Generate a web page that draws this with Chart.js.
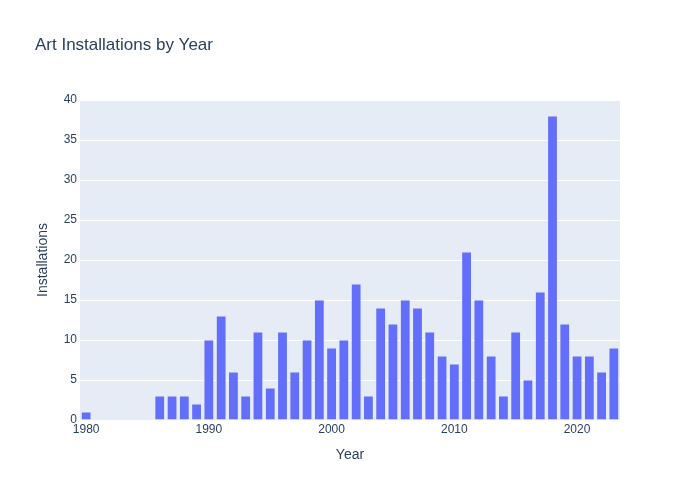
<!DOCTYPE html>
<html lang="en">
<head>
  <meta charset="UTF-8">
  <title>Art Installations by Year</title>
  <script src="https://cdn.jsdelivr.net/npm/chart.js@4.4.1/dist/chart.umd.min.js"></script>
  <style>
  html, body { margin: 0; padding: 0; background: #fff; }
  #wrap { width: 700px; height: 500px; }
  </style>
</head>
<body>
<div id="wrap"><canvas id="myChart" width="700" height="500"></canvas></div>
<script>
    const years = [1980, 1981, 1982, 1983, 1984, 1985, 1986, 1987, 1988, 1989,
      1990, 1991, 1992, 1993, 1994, 1995, 1996, 1997, 1998, 1999,
      2000, 2001, 2002, 2003, 2004, 2005, 2006, 2007, 2008, 2009,
      2010, 2011, 2012, 2013, 2014, 2015, 2016, 2017, 2018, 2019,
      2020, 2021, 2022, 2023];
    const installations = [1, 0, 0, 0, 0, 0, 3, 3, 3, 2,
      10, 13, 6, 3, 11, 4, 11, 6, 10, 15,
      9, 10, 17, 3, 14, 12, 15, 14, 11, 8,
      7, 21, 15, 8, 3, 11, 5, 16, 38, 12,
      8, 8, 6, 9];
    const yTicks = [0, 5, 10, 15, 20, 25, 30, 35, 40];
    const xTickYears = [1980, 1990, 2000, 2010, 2020];

    // plot background like plotly
    const plotBg = {
        id: 'plotBg',
        beforeDraw: (chart) => {
            const a = chart.chartArea;
            const ctx = chart.ctx;
            ctx.save();
            ctx.fillStyle = '#e5ecf6';
            ctx.fillRect(a.left, a.top, a.right - a.left, a.bottom - a.top);
            ctx.restore();
        }
    };

    Chart.defaults.font.family = "'Liberation Sans', Arial, sans-serif";
    Chart.defaults.color = '#2a3f5f';

    var ctx = document.getElementById('myChart');
    var myChart = new Chart(ctx, {
        type: 'bar',
        data: {
          labels: years,
          datasets: [{
            label: 'Installations',
            data: installations,
            backgroundColor: '#636efa',
            borderColor: '#e5ecf6',
            borderWidth: 0.5,
            categoryPercentage: 0.8,
            barPercentage: 1.0
          }]
        },
        plugins: [plotBg],
        options: {
          responsive: false,
          animation: false,
          layout: { padding: { left: 35, right: 80, top: 0, bottom: 0 } },
          scales: {
            y: {
              min: 0,
              max: 40,
              afterFit: (s) => { s.width = 45; },
              afterBuildTicks: (s) => { s.ticks = yTicks.map(v => ({ value: v })); },
              border: { display: false },
              grid: { color: '#ffffff', lineWidth: 1, drawTicks: false },
              ticks: { padding: 3, font: { size: 12 }, color: '#2a3f5f' },
              title: {
                display: true,
                text: 'Installations',
                font: { size: 14 },
                color: '#2a3f5f',
                padding: { top: 0, bottom: 0 }
              }
            },
            x: {
              afterFit: (s) => { s.height = 80; },
              border: { display: false },
              grid: { display: false, drawTicks: false },
              ticks: {
                autoSkip: false,
                maxRotation: 0,
                padding: 2,
                font: { size: 12 },
                color: '#2a3f5f',
                callback: function(value, index) {
                  const y = years[index];
                  return xTickYears.includes(y) ? String(y) : '';
                }
              },
              title: {
                display: true,
                text: 'Year',
                font: { size: 14 },
                color: '#2a3f5f',
                padding: { top: 0, bottom: 36 }
              }
            }
          },
          plugins: {
            legend: { display: false },
            tooltip: { enabled: false },
            title: {
              display: true,
              text: 'Art Installations by Year',
              align: 'start',
              font: { size: 17, weight: 'normal' },
              color: '#2a3f5f',
              padding: { top: 35, bottom: 44.6 }
            }
          }
        }
      });
</script>
</body>
</html>
